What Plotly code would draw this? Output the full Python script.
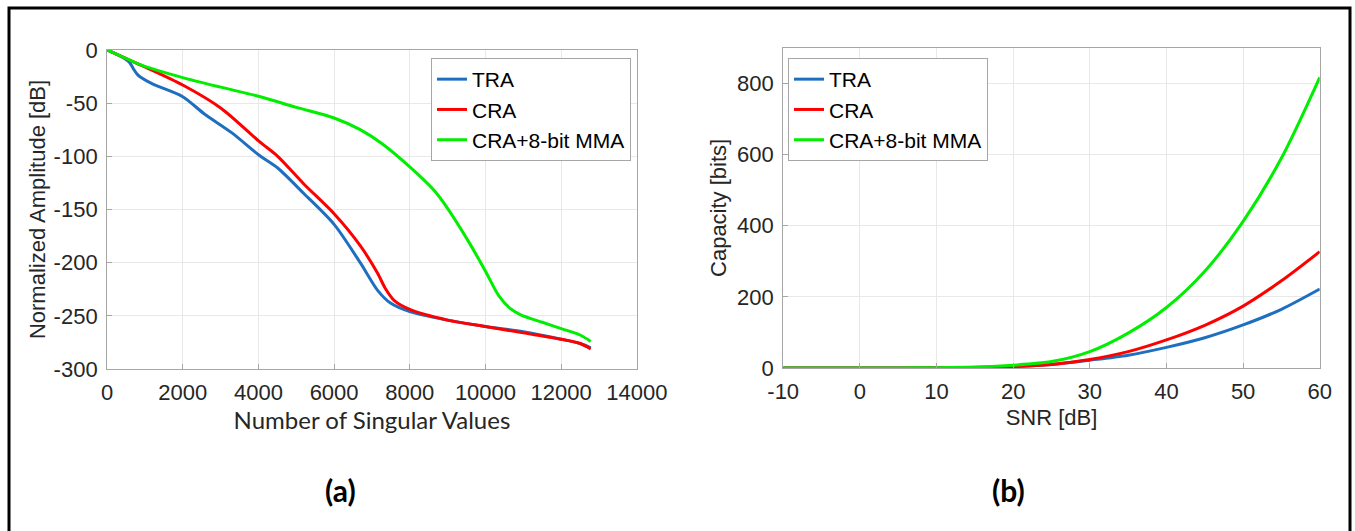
import plotly.graph_objects as go

# ---------- Panel (a) data ----------
a_tra_x = [0, 300, 500, 600, 700, 800, 900, 1200, 2000, 2565, 3300, 4020, 4510, 5200, 6000, 6690, 7150, 7490, 8000, 9000, 10000, 11000, 12000, 12500, 12780]
a_tra_y = [0, -5, -9, -12, -18, -23, -26, -32, -44, -60, -78, -99, -111, -135, -164, -200, -226, -238, -246, -254, -260, -265, -272, -276, -280]

a_cra_x = [0, 500, 1000, 2000, 3020, 4020, 4510, 5200, 6000, 6690, 7150, 7350, 7600, 8000, 9000, 10000, 11000, 12000, 12500, 12780]
a_cra_y = [0, -8, -16, -33, -55, -86, -100, -126, -154, -184, -210, -224, -236, -244, -254, -260, -266, -272, -276, -281]

a_mma_x = [0, 500, 960, 2000, 3000, 4050, 5000, 6000, 6690, 7260, 8000, 8640, 8980, 9550, 10000, 10350, 10650, 10930, 11500, 12000, 12500, 12780]
a_mma_y = [0, -8, -15, -26, -35, -44, -54, -64, -75, -88, -110, -132, -148, -180, -208, -231, -243, -249, -256, -262, -268, -274]

a_xticks = [0, 2000, 4000, 6000, 8000, 10000, 12000, 14000]
a_yticks = [0, -50, -100, -150, -200, -250, -300]

# ---------- Panel (b) data ----------
b_snr = [-10, -5, 0, 5, 10, 15, 20, 25, 30, 35, 40, 45, 50, 55, 60]
b_tra = [0, 0, 0, 0, 0.5, 1.5, 4, 10, 22, 36, 58, 85, 121, 165, 222]
b_cra = [0, 0, 0, 0, 0.5, 1.5, 4, 10, 24, 46, 79, 120, 174, 245, 327]
b_mma = [0, 0, 0, 0.2, 1, 3, 8, 18, 46, 98, 170, 272, 412, 590, 817]

b_xticks = [-10, 0, 10, 20, 30, 40, 50, 60]
b_yticks = [0, 200, 400, 600, 800]

series_names = ["TRA", "CRA", "CRA+8-bit MMA"]
colors = ["#1f6fc0", "#ff0000", "#00ee00"]

fig = go.Figure()
for name, xs, ys, c in zip(series_names, [a_tra_x, a_cra_x, a_mma_x], [a_tra_y, a_cra_y, a_mma_y], colors):
    fig.add_trace(go.Scatter(x=xs, y=ys, name=name, mode="lines", line=dict(color=c, width=3, shape="spline", smoothing=0.8),
                             xaxis="x", yaxis="y", legend="legend"))
for name, ys, c in zip(series_names, [b_tra, b_cra, b_mma], colors):
    fig.add_trace(go.Scatter(x=b_snr, y=ys, name=name, mode="lines", line=dict(color=c, width=3, shape="spline", smoothing=0.8),
                             xaxis="x2", yaxis="y2", legend="legend2"))

def lbl(v):
    return str(v)  # hyphen-minus like the reference

tickfont = dict(family="Liberation Sans, Arial", size=22, color="#262626")
axis_common = dict(showgrid=True, gridcolor="#e8e8e8", gridwidth=1, showline=True, linecolor="#a6a6a6", linewidth=1,
                   mirror=True, ticks="inside", ticklen=5, tickcolor="#a6a6a6", zeroline=False, tickfont=tickfont,
                   automargin=False, ticklabelstandoff=4)
title_font = dict(family="Liberation Sans, Arial", size=22, color="#262626")

fig.update_layout(
    template="none",
    width=1355, height=531,
    margin=dict(l=0, r=0, t=0, b=0, pad=0, autoexpand=False),
    paper_bgcolor="white", plot_bgcolor="white",
    xaxis=dict(domain=[0.079, 0.470], range=[0, 14000], tickvals=a_xticks, ticktext=[lbl(v) for v in a_xticks],
               title=dict(text="Number of Singular Values", font=dict(family="Lato, Open Sans", size=24, color="#262626"), standoff=0),
               anchor="y", **axis_common),
    yaxis=dict(domain=[0.305, 0.906], range=[-300, 0], tickvals=a_yticks, ticktext=[lbl(v) for v in a_yticks],
               title=dict(text="Normalized Amplitude [dB]", font=title_font, standoff=1),
               anchor="x", **axis_common),
    xaxis2=dict(domain=[0.578, 0.974], range=[-10, 60], tickvals=b_xticks, ticktext=[lbl(v) for v in b_xticks],
                title=dict(text="SNR [dB]", font=title_font, standoff=6),
                anchor="y2", **axis_common),
    yaxis2=dict(domain=[0.307, 0.910], range=[0, 900], tickvals=b_yticks, ticktext=[lbl(v) for v in b_yticks],
                title=dict(text="Capacity [bits]", font=title_font, standoff=4),
                anchor="x2", **axis_common),
    legend=dict(x=431 / 1355, y=1 - 58 / 531, xanchor="left", yanchor="top", bgcolor="white", bordercolor="#a6a6a6", borderwidth=1,
                font=dict(family="Liberation Sans, Arial", size=21, color="black"), itemwidth=30, tracegroupgap=0),
    legend2=dict(x=788 / 1355, y=1 - 58 / 531, xanchor="left", yanchor="top", bgcolor="white", bordercolor="#a6a6a6", borderwidth=1,
                 font=dict(family="Liberation Sans, Arial", size=21, color="black"), itemwidth=30, tracegroupgap=0),
    showlegend=True,
)

fig.add_annotation(text="<b>(a)</b>", x=341 / 1355, y=1 - 490 / 531, xref="paper", yref="paper", showarrow=False,
                   xanchor="center", yanchor="middle", font=dict(family="Lato, Open Sans", size=30, color="black"))
fig.add_annotation(text="<b>(b)</b>", x=1008 / 1355, y=1 - 490 / 531, xref="paper", yref="paper", showarrow=False,
                   xanchor="center", yanchor="middle", font=dict(family="Lato, Open Sans", size=30, color="black"))

# outer frame
fig.add_shape(type="rect", xref="paper", yref="paper", x0=9 / 1355, x1=1350 / 1355, y0=-0.05, y1=1 - 8 / 531,
              line=dict(color="black", width=3), fillcolor="rgba(0,0,0,0)", layer="below")

fig.write_html("out.html")
